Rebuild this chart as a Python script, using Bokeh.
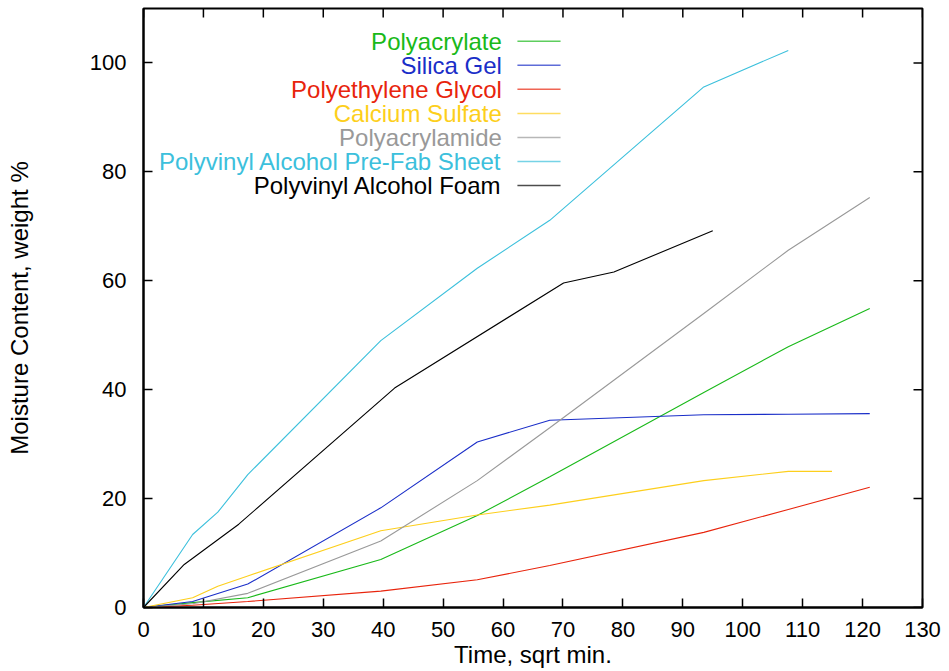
from bokeh.plotting import figure
from bokeh.models import LinearAxis, Range1d, FixedTicker, Label
from bokeh.embed import file_html
from bokeh.resources import INLINE

# ---- data (Time, sqrt min. vs Moisture Content, weight %) ----
series_names = [
    "Polyacrylate",
    "Silica Gel",
    "Polyethylene Glycol",
    "Calcium Sulfate",
    "Polyacrylamide",
    "Polyvinyl Alcohol Pre-Fab Sheet",
    "Polyvinyl Alcohol Foam",
]

polyacrylate_x = [0, 8.2, 17.4, 39.6, 55.7, 67.8, 93.5, 107.6, 121.2]
polyacrylate_y = [0, 0.9, 1.8, 8.8, 16.9, 24.0, 39.5, 47.9, 54.9]

silica_gel_x = [0, 8.2, 17.4, 39.6, 55.7, 67.8, 93.5, 107.6, 121.2]
silica_gel_y = [0, 1.1, 4.3, 18.3, 30.4, 34.4, 35.4, 35.5, 35.6]

peg_x = [0, 8.2, 17.4, 39.6, 55.7, 67.8, 93.5, 107.6, 121.2]
peg_y = [0, 0.4, 1.1, 3.0, 5.1, 7.7, 13.8, 18.0, 22.1]

calcium_sulfate_x = [0, 8.2, 12.4, 17.4, 39.6, 55.7, 67.8, 93.5, 107.6, 114.9]
calcium_sulfate_y = [0, 1.8, 3.9, 5.8, 14.1, 17.0, 18.8, 23.3, 25.0, 25.0]

polyacrylamide_x = [0, 8.2, 17.4, 39.6, 55.7, 67.8, 93.5, 107.6, 121.2]
polyacrylamide_y = [0, 0.7, 2.6, 12.2, 23.3, 33.0, 54.0, 65.6, 75.3]

pva_sheet_x = [0, 8.2, 12.4, 17.4, 39.6, 55.7, 67.8, 93.5, 107.6]
pva_sheet_y = [0, 13.4, 17.5, 24.4, 49.0, 62.3, 71.1, 95.6, 102.3]

pva_foam_x = [0, 6.8, 15.9, 41.9, 70.1, 78.5, 95.0]
pva_foam_y = [0, 7.9, 15.3, 40.3, 59.6, 61.6, 69.2]

x_ticks = list(range(0, 131, 10))
y_ticks = list(range(0, 101, 20))

colors = ["#19b919", "#1a2ec8", "#e8240c", "#fdcf1c", "#999999", "#3cc0dc", "#000000"]

xs = [polyacrylate_x, silica_gel_x, peg_x, calcium_sulfate_x,
      polyacrylamide_x, pva_sheet_x, pva_foam_x]
ys = [polyacrylate_y, silica_gel_y, peg_y, calcium_sulfate_y,
      polyacrylamide_y, pva_sheet_y, pva_foam_y]

FONT = "Liberation Sans"
X_MIN, X_MAX = 0, 130
Y_MIN, Y_MAX = 0, 110

p = figure(width=949, height=671, output_backend="svg", toolbar_location=None,
           x_range=Range1d(X_MIN, X_MAX), y_range=Range1d(Y_MIN, Y_MAX),
           min_border_left=143, min_border_right=27, min_border_top=8,
           min_border_bottom=64, x_axis_type=None, y_axis_type=None)
p.grid.visible = False
p.outline_line_color = "black"
p.outline_line_width = 2
p.background_fill_color = "white"
p.border_fill_color = "white"


def style_axis(ax):
    ax.axis_line_color = "black"
    ax.axis_line_width = 2
    ax.major_tick_in = 9
    ax.major_tick_out = 0
    ax.major_tick_line_width = 1.5
    ax.major_tick_line_color = "black"
    ax.minor_tick_line_color = None
    ax.major_label_text_font = FONT
    ax.major_label_text_color = "black"
    ax.major_label_text_font_size = "22px"
    ax.axis_label_text_font = FONT
    ax.axis_label_text_font_size = "24px"
    ax.axis_label_text_font_style = "normal"
    ax.axis_label_text_color = "black"


xb = LinearAxis(ticker=FixedTicker(ticks=x_ticks), axis_label="Time, sqrt min.")
style_axis(xb)
xb.major_label_standoff = 14
xb.axis_label_standoff = 1
p.add_layout(xb, "below")

yl = LinearAxis(ticker=FixedTicker(ticks=y_ticks), axis_label="Moisture Content, weight %")
style_axis(yl)
yl.major_label_standoff = 17
yl.axis_label_standoff = 54
p.add_layout(yl, "left")

# mirrored inward ticks on the top and right frame edges
tick_len_x = 9 / 5.99   # 9 px expressed in x units
tick_len_y = 9 / 5.445  # 9 px expressed in y units
p.segment(x0=x_ticks, y0=[Y_MAX] * len(x_ticks), x1=x_ticks,
          y1=[Y_MAX - tick_len_y] * len(x_ticks), line_color="black", line_width=1.5)
p.segment(x0=[X_MAX] * len(y_ticks), y0=y_ticks, x1=[X_MAX - tick_len_x] * len(y_ticks),
          y1=y_ticks, line_color="black", line_width=1.5)

for x, y, c in zip(xs, ys, colors):
    p.line(x, y, line_color=c, line_width=1.1)

# ---- legend (label right-aligned, sample line to its right) ----
leg_text_x = 59.8
leg_line_x0 = 62.4
leg_line_x1 = 69.6
leg_top_y = 104.0
leg_step = 4.42
for i, (name, c) in enumerate(zip(series_names, colors)):
    yy = leg_top_y - i * leg_step
    p.add_layout(Label(x=leg_text_x, y=yy, text=name, text_align="right",
                       text_baseline="middle", text_color=c, text_font=FONT,
                       text_font_size="24px"))
    p.line([leg_line_x0, leg_line_x1], [yy, yy], line_color=c, line_width=1.5,
           line_alpha=0.7)

open("out.html", "w").write(file_html(p, INLINE))
